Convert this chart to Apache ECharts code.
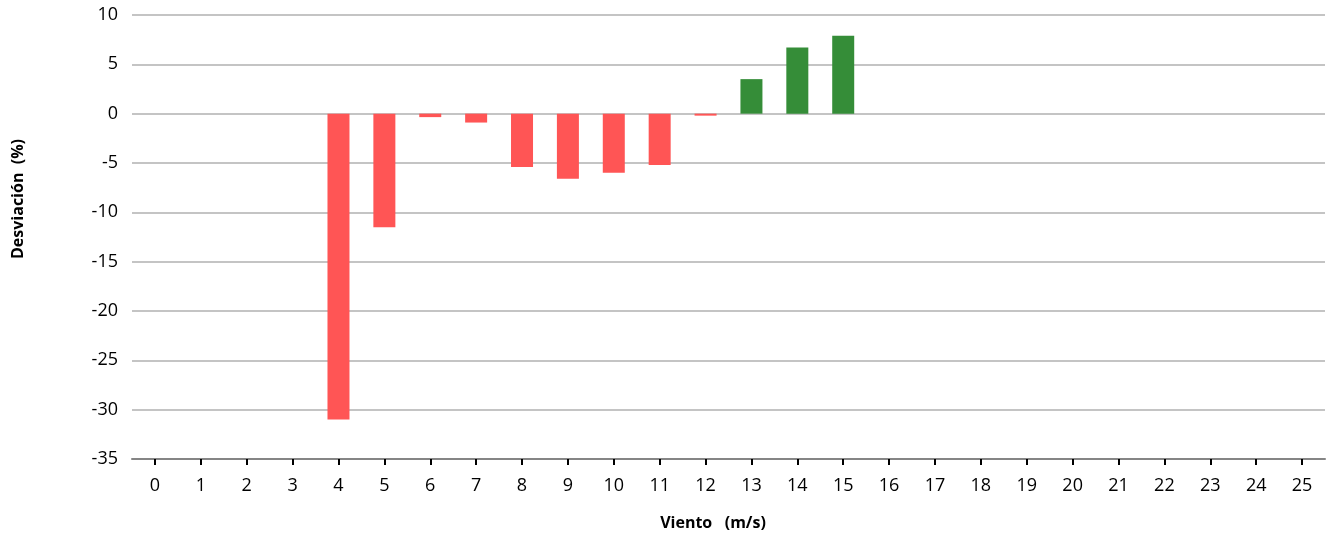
<!DOCTYPE html>
<html><head><meta charset="utf-8">
<script src="https://cdn.jsdelivr.net/npm/echarts@6/dist/echarts.min.js"></script>
<style>html,body{margin:0;padding:0;background:#fff}#c{width:1326px;height:538px}</style>
</head><body><div id="c"></div>
<script>
const categories = ['0','1','2','3','4','5','6','7','8','9','10','11','12','13','14','15','16','17','18','19','20','21','22','23','24','25'];
const deviation = [null,null,null,null,-31.0,-11.5,-0.35,-0.9,-5.4,-6.6,-6.0,-5.2,-0.2,3.5,6.7,7.9,null,null,null,null,null,null,null,null,null,null];
const yTicks = {min:-35, max:10, interval:5};
const xTitle = 'Viento   (m/s)';
const yTitle = 'Desviación  (%)';

const font = '"Open Sans", "Liberation Sans", sans-serif';
const chart = echarts.init(document.getElementById('c'));
chart.setOption({
  animation:false,
  grid:{left:132, right:1, top:15, bottom:79, containLabel:false},
  xAxis:{type:'category', data:categories, boundaryGap:true,
    axisLine:{show:true, onZero:false, lineStyle:{color:'#858585', width:2}},
    axisTick:{show:true, alignWithLabel:true, length:6, lineStyle:{color:'#000', width:2}, inside:false},
    axisLabel:{color:'#000', fontSize:18, fontFamily:font, margin:18}},
  yAxis:{type:'value', min:yTicks.min, max:yTicks.max, interval:yTicks.interval,
    axisLine:{show:false}, axisTick:{show:false},
    splitLine:{lineStyle:{color:'#c4c4c4', width:2}},
    axisLabel:{color:'#000', fontSize:18, fontFamily:font, margin:14}},
  series:[{type:'bar', data:deviation, barWidth:22,
    itemStyle:{color:p => p.value >= 0 ? '#358d38' : '#ff5555'}}],
  graphic:[
    {type:'text', x:713, y:523, style:{text:xTitle, align:'center', verticalAlign:'middle', font:'bold 16px ' + font, fill:'#000'}},
    {type:'text', rotation:Math.PI/2, x:18, y:199, style:{text:yTitle, align:'center', verticalAlign:'middle', font:'bold 16px ' + font, fill:'#000'}}
  ]
});
</script></body></html>
